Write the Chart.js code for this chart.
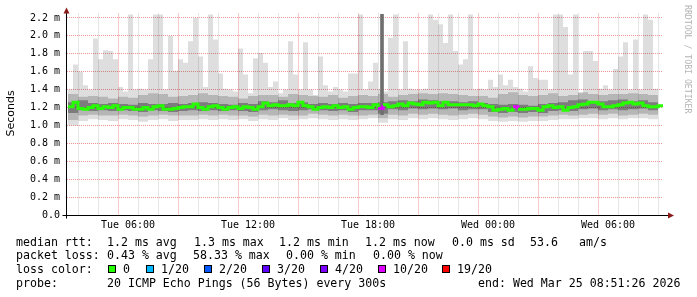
<!DOCTYPE html>
<html>
<head>
<meta charset="utf-8">
<script src="https://cdn.jsdelivr.net/npm/chart.js@4.4.1/dist/chart.umd.min.js"></script>
<style>
  html, body { margin: 0; padding: 0; background: #fff; }
  #wrap { position: relative; width: 697px; height: 297px; overflow: hidden; }
  #graph { position: absolute; left: 0; top: 0; }
  .lg { position: absolute; font-family: "DejaVu Sans Mono", monospace; font-size: 11.6px; line-height: 14px; color: #000; white-space: pre; }
  .sw { position: absolute; width: 8px; height: 8px; border: 1px solid #000; box-sizing: border-box; }
</style>
</head>
<body>
<div id="wrap">
  <canvas id="graph" width="697" height="297"></canvas>
  <div id="legend"></div>
</div>
<script>
// time axis is hours since Tue 00:00
const START_HOUR = 3.0;
const STEP = 0.25;       // fine series (max / median)
const BAND_STEP = 0.5;   // smoke bands

// highest ping per step (light smoke top), ms
const rttMax = [
  1.40,1.68,1.60,1.45,1.40,1.97,1.74,1.84,1.83,1.74,1.43,1.38,2.24,1.40,1.41,1.40,1.74,2.24,2.24,1.40,2.00,1.61,1.74,1.70,1.94,2.20,1.77,1.43,2.24,1.96,
  1.58,1.41,1.40,1.38,1.86,1.57,1.36,1.75,1.81,1.70,1.43,1.49,1.36,1.40,1.94,1.57,1.40,1.93,1.40,1.34,1.77,1.45,1.38,1.43,1.40,1.38,1.58,1.58,2.24,1.40,
  1.49,1.70,1.40,1.38,1.98,2.24,1.40,1.94,1.41,1.40,1.40,1.41,2.24,2.18,2.13,1.92,2.24,1.83,1.68,1.74,2.24,1.40,1.41,1.40,1.51,1.43,1.57,1.45,1.51,1.43,
  1.41,1.38,1.66,1.53,1.51,1.51,1.40,2.24,2.24,2.10,1.57,2.24,1.36,1.83,1.83,1.72,1.41,1.45,1.40,1.63,1.77,1.93,1.40,1.96,1.40,2.24,2.18,1.41,2.03,2.03
];

// median rtt per step, ms
const rttMedian = [
  1.21,1.26,1.19,1.18,1.20,1.22,1.19,1.21,1.20,1.22,1.18,1.20,1.20,1.18,1.18,1.20,1.18,1.21,1.22,1.18,1.18,1.19,1.20,1.21,1.21,1.24,1.20,1.18,1.21,1.22,
  1.20,1.18,1.20,1.21,1.19,1.21,1.20,1.18,1.21,1.25,1.22,1.23,1.22,1.22,1.23,1.22,1.26,1.22,1.21,1.18,1.20,1.21,1.20,1.22,1.20,1.21,1.18,1.20,1.21,1.21,
  1.20,1.23,1.19,1.23,1.21,1.22,1.24,1.22,1.25,1.24,1.23,1.26,1.25,1.26,1.22,1.26,1.23,1.23,1.23,1.23,1.23,1.22,1.24,1.22,1.21,1.17,1.18,1.19,1.17,1.21,
  1.18,1.18,1.19,1.19,1.17,1.21,1.22,1.20,1.21,1.17,1.20,1.21,1.23,1.24,1.26,1.26,1.24,1.21,1.21,1.22,1.23,1.25,1.26,1.24,1.25,1.22,1.21,1.21,1.22,1.22
];

// steps with packet loss (index into the fine series, lost pings of 20)
const lossStep = [62, 89];
const lossCount = [10, 10];

// smoke bands, half-hour resolution
const lightLow = [
  1.00,1.05,1.07,1.06,1.05,1.07,1.06,1.04,1.06,1.07,1.05,1.06,1.06,1.07,1.06,
  1.07,1.06,1.07,1.05,1.07,1.06,1.08,1.06,1.07,1.08,1.07,1.06,1.07,1.06,1.07,
  1.08,1.03,1.07,1.06,1.08,1.07,1.08,1.07,1.06,1.07,1.08,1.07,1.05,1.04,1.05,
  1.04,1.05,1.05,1.06,1.07,1.07,1.08,1.08,1.07,1.08,1.07,1.08,1.08,1.07,1.07
];
const midLow = [
  1.06,1.11,1.12,1.11,1.11,1.12,1.11,1.10,1.11,1.12,1.11,1.11,1.11,1.12,1.11,
  1.12,1.11,1.11,1.10,1.12,1.11,1.12,1.11,1.11,1.13,1.12,1.11,1.12,1.11,1.11,
  1.12,1.08,1.12,1.11,1.13,1.12,1.13,1.12,1.11,1.12,1.13,1.12,1.10,1.09,1.10,
  1.09,1.10,1.10,1.11,1.12,1.11,1.12,1.13,1.12,1.13,1.11,1.12,1.13,1.12,1.12
];
const midHigh = [
  1.35,1.32,1.33,1.32,1.30,1.32,1.31,1.34,1.36,1.35,1.32,1.33,1.34,1.36,1.34,
  1.33,1.32,1.30,1.33,1.34,1.34,1.32,1.35,1.34,1.33,1.32,1.34,1.31,1.33,1.34,
  1.33,1.35,1.32,1.34,1.35,1.36,1.35,1.36,1.35,1.34,1.33,1.33,1.31,1.35,1.37,
  1.34,1.33,1.34,1.36,1.33,1.34,1.37,1.35,1.34,1.35,1.35,1.36,1.35,1.34,1.34
];
const darkLow = [
  1.14,1.17,1.16,1.17,1.16,1.17,1.16,1.15,1.17,1.16,1.15,1.16,1.17,1.16,1.17,
  1.16,1.17,1.16,1.15,1.17,1.18,1.17,1.16,1.17,1.18,1.17,1.16,1.17,1.15,1.17,
  1.17,1.13,1.18,1.17,1.19,1.18,1.19,1.18,1.19,1.17,1.18,1.18,1.15,1.14,1.15,
  1.14,1.15,1.14,1.16,1.17,1.16,1.18,1.19,1.17,1.18,1.17,1.18,1.19,1.17,1.17
];
const darkHigh = [
  1.26,1.28,1.25,1.24,1.25,1.24,1.23,1.25,1.24,1.24,1.25,1.24,1.25,1.26,1.25,
  1.24,1.23,1.25,1.24,1.27,1.26,1.28,1.25,1.26,1.24,1.25,1.24,1.25,1.24,1.25,
  1.25,1.26,1.27,1.28,1.27,1.29,1.28,1.27,1.27,1.26,1.27,1.25,1.24,1.23,1.24,
  1.23,1.22,1.24,1.25,1.26,1.28,1.29,1.26,1.27,1.28,1.29,1.27,1.28,1.26,1.26
];

// the one dense column near Tue 18:40
const spikeHour = [18.7];
const spikeLow = [1.12];
const spikeHigh = [2.24];

// axes
const yGrid = [0,0.1,0.2,0.3,0.4,0.5,0.6,0.7,0.8,0.9,1.0,1.1,1.2,1.3,1.4,1.5,1.6,1.7,1.8,1.9,2.0,2.1,2.2];
const yLabelValues = [0,0.2,0.4,0.6,0.8,1.0,1.2,1.4,1.6,1.8,2.0,2.2];
const yLabels = ['0.0','0.2 m','0.4 m','0.6 m','0.8 m','1.0 m','1.2 m','1.4 m','1.6 m','1.8 m','2.0 m','2.2 m'];
const xGridHours = [3,4,5,6,7,8,9,10,11,12,13,14,15,16,17,18,19,20,21,22,23,24,25,26,27,28,29,30,31,32];
const xLabelHours = [6, 12, 18, 24, 30];
const xLabels = ['Tue 06:00', 'Tue 12:00', 'Tue 18:00', 'Wed 00:00', 'Wed 06:00'];

// loss colours (smokeping defaults)
const lossLevels = [0, 1, 2, 3, 4, 10, 19];
const lossNames = ['0', '1/20', '2/20', '3/20', '4/20', '10/20', '19/20'];
const lossColors = ['#26ff00', '#00b8ff', '#0059ff', '#5e00ff', '#7e00ff', '#dd00ff', '#ff0000'];

const RED_GRID = 'rgb(236,150,150)';
const GRAY_GRID = 'rgb(205,205,205)';

function xy(start, step, values) {
    return values.map((v, i) => ({ x: start + i * step, y: v }));
}

function lossColorAt(i) {
    const k = lossStep.indexOf(i);
    const n = k < 0 ? 0 : lossCount[k];
    let c = lossColors[0];
    lossLevels.forEach((lvl, j) => { if (n >= lvl) c = lossColors[j]; });
    return c;
}

const near = (a, b) => Math.abs(a - b) < 1e-6;

const band = (data, color, order) => ({
    data, stepped: true, pointRadius: 0, borderWidth: 1, borderColor: 'rgba(0,0,0,0)',
    backgroundColor: color, fill: color ? '-1' : false, order,
});

const rrdFrame = {
    id: 'rrdFrame',
    afterDraw(chart) {
        const { ctx, chartArea: a } = chart;
        const ax = a.left - 0.5;
        const ay = a.bottom + 0.5;
        ctx.save();
        ctx.strokeStyle = '#000';
        ctx.lineWidth = 1;
        ctx.beginPath();
        ctx.moveTo(ax - 4, ay); ctx.lineTo(a.right + 5, ay);
        ctx.moveTo(ax, ay + 3); ctx.lineTo(ax, a.top - 1);
        ctx.stroke();

        ctx.fillStyle = '#8b1a1a';
        ctx.beginPath();
        ctx.moveTo(ax - 3, a.top); ctx.lineTo(ax + 3, a.top); ctx.lineTo(ax, a.top - 6);
        ctx.closePath(); ctx.fill();
        ctx.beginPath();
        ctx.moveTo(a.right + 5, ay - 3); ctx.lineTo(a.right + 5, ay + 3); ctx.lineTo(a.right + 11, ay);
        ctx.closePath(); ctx.fill();

        ctx.fillStyle = '#000';
        ctx.font = '11px "DejaVu Sans"';
        ctx.textAlign = 'center';
        ctx.textBaseline = 'middle';
        ctx.translate(11, 113.5);
        ctx.rotate(-Math.PI / 2);
        ctx.fillText('Seconds', 0, 0);
        ctx.restore();

        ctx.save();
        ctx.fillStyle = '#b4b4b4';
        ctx.font = '8.2px "DejaVu Sans Mono"';
        ctx.textAlign = 'left';
        ctx.textBaseline = 'middle';
        ctx.translate(687.5, 5);
        ctx.rotate(Math.PI / 2);
        ctx.fillText('RRDTOOL / TOBI OETIKER', 0, 0);
        ctx.restore();
    }
};

new Chart(document.getElementById('graph'), {
    type: 'line',
    data: {
        datasets: [
            band(xy(START_HOUR, BAND_STEP, lightLow), null, 20),
            band(xy(START_HOUR, STEP, rttMax), 'rgba(0,0,0,0.13)', 10),
            band(xy(START_HOUR, BAND_STEP, midLow), null, 20),
            band(xy(START_HOUR, BAND_STEP, midHigh), 'rgba(0,0,0,0.18)', 8),
            band(xy(START_HOUR, BAND_STEP, darkLow), null, 20),
            band(xy(START_HOUR, BAND_STEP, darkHigh), 'rgba(0,0,0,0.32)', 6),
            {
                type: 'bar',
                data: spikeHour.map((h, i) => ({ x: h, y: [spikeLow[i], spikeHigh[i]] })),
                backgroundColor: '#6f6f6f',
                barThickness: 3,
                grouped: false,
                order: 4,
            },
            {
                data: xy(START_HOUR, STEP, rttMedian),
                stepped: true,
                pointRadius: 0,
                borderWidth: 3,
                borderColor: lossColors[0],
                fill: false,
                order: 0,
                segment: { borderColor: c => lossColorAt(c.p0DataIndex) },
            },
        ],
    },
    options: {
        responsive: false,
        animation: false,
        events: [],
        layout: { padding: { top: 13.5, right: 34, left: 0, bottom: 0 } },
        plugins: { legend: { display: false }, tooltip: { enabled: false } },
        scales: {
            x: {
                type: 'linear', min: 2.95, max: 32.75, offset: false,
                afterBuildTicks: s => { s.ticks = xGridHours.map(v => ({ value: v })); },
                afterFit: s => { s.height = 82; },
                grid: { color: c => (c.tick && c.tick.value % 3 === 0) ? RED_GRID : GRAY_GRID, drawTicks: false, lineWidth: 1 },
                border: { display: true, width: 0, dash: [1, 1] },
                ticks: {
                    autoSkip: false, maxRotation: 0, minRotation: 0, padding: 4, color: '#000',
                    font: { family: 'DejaVu Sans Mono', size: 10 },
                    callback: v => { const k = xLabelHours.indexOf(v); return k < 0 ? '' : xLabels[k]; },
                },
            },
            y: {
                type: 'linear', min: 0, max: 2.25,
                afterBuildTicks: s => { s.ticks = yGrid.map(v => ({ value: v })); },
                afterFit: s => { s.width = 67; },
                grid: { color: c => (c.tick && yLabelValues.some(v => near(v, c.tick.value))) ? RED_GRID : GRAY_GRID, drawTicks: false, lineWidth: 1 },
                border: { display: true, width: 0, dash: [1, 1] },
                ticks: {
                    padding: 7, color: '#000',
                    font: { family: 'DejaVu Sans Mono', size: 10 },
                    callback: v => { const k = yLabelValues.findIndex(t => near(t, v)); return k < 0 ? '' : yLabels[k]; },
                },
            },
        },
    },
    plugins: [rrdFrame],
});

// legend block under the graph
const rows = [
    { y: 241.5, items: [['median rtt:', 16], ['1.2 ms avg', 107], ['1.3 ms max', 194], ['1.2 ms min', 279], ['1.2 ms now', 365], ['0.0 ms sd', 452], ['53.6', 530], ['am/s', 579]] },
    { y: 255.2, items: [['packet loss:', 16], ['0.43 % avg', 107], ['58.33 % max', 193], ['0.00 % min', 286], ['0.00 % now', 373]] },
    { y: 269, items: [['loss color:', 16]] },
    { y: 282.7, items: [['probe:', 16], ['20 ICMP Echo Pings (56 Bytes) every 300s', 107], ['end: Wed Mar 25 08:51:26 2026', 478]] },
];
const swatchX = [108, 146, 204, 262, 320, 378, 442];

const legend = document.getElementById('legend');
let html = '';
rows.forEach(r => {
    r.items.forEach(([t, x]) => {
        html += `<div class="lg" style="left:${x}px;top:${r.y - 7}px">${t}</div>`;
    });
});
lossNames.forEach((name, i) => {
    html += `<div class="sw" style="left:${swatchX[i]}px;top:${269 - 4.5}px;background:${lossColors[i]}"></div>`;
    html += `<div class="lg" style="left:${swatchX[i] + 15}px;top:${269 - 7}px">${name}</div>`;
});
legend.innerHTML = html;
</script>
</body>
</html>
